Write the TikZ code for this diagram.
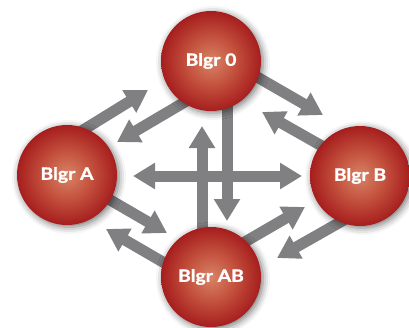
\documentclass[tikz,border=0pt]{standalone}
\usepackage{fontspec}
\setmainfont{Lato}
\newfontfamily\ballfont{Lato}[BoldFeatures={FakeBold=1.2,FakeStretch=1.14}]
\usetikzlibrary{arrows.meta,shadows.blur}
\definecolor{arrgray}{RGB}{128,128,131}
\definecolor{ballin}{RGB}{216,132,102}
\definecolor{ballmid}{RGB}{196,82,62}
\definecolor{ballout}{RGB}{166,30,30}
\pgfdeclareradialshading{redball}{\pgfpoint{0bp}{0bp}}{color(0bp)=(ballin); color(12bp)=(ballmid); color(25bp)=(ballout); color(50bp)=(ballout)}
\pgfdeclarelayer{bg}
\pgfsetlayers{bg,main}
\tikzset{
  ball/.style={circle, minimum size=100pt, inner sep=0pt, shading=redball,
    blur shadow={shadow xshift=2pt, shadow yshift=-2pt, shadow blur radius=7pt, shadow opacity=55},
    text=white, font=\ballfont\bfseries\fontsize{17}{17}\selectfont},
  arr/.style={draw=arrgray, line width=11pt, -{Triangle[width=25pt,length=22pt]}},
  darr/.style={draw=arrgray, line width=11pt, {Triangle[width=25pt,length=22pt]}-{Triangle[width=25pt,length=22pt]}},
}
\begin{document}
\begin{tikzpicture}[x=1pt,y=-1pt]
\useasboundingbox (0,0) rectangle (409,327);
\clip (0,0) rectangle (409,327);
% balls
\node[ball] (n0) at (211,61) {Blgr 0};
\node[ball] (nA) at (67,175) {Blgr A};
\node[ball] (nB) at (360,176) {Blgr B};
\node[ball] (nAB) at (211,277) {Blgr AB};
% connector end points
\coordinate (sA0) at (75,135);   \coordinate (tA0) at (148,90);
\coordinate (s0A) at (195,96);   \coordinate (t0A) at (117,142);
\coordinate (s0B) at (245,70);   \coordinate (t0B) at (323,115);
\coordinate (sB0) at (336,154);  \coordinate (tB0) at (262,112);
\coordinate (sAAB) at (93,190);  \coordinate (tAAB) at (167,233);
\coordinate (sABA) at (180,272); \coordinate (tABA) at (106,229);
\coordinate (sABB) at (231,250); \coordinate (tABB) at (305,207);
\coordinate (sBAB) at (351,216); \coordinate (tBAB) at (277,258);
\coordinate (sup0) at (202,262); \coordinate (tup0) at (202,126);
\coordinate (sdn) at (227,70);   \coordinate (tdn) at (227,221);
\coordinate (hL) at (133,176);   \coordinate (hR) at (302,176);
\begin{pgfonlayer}{bg}
\draw[arr] (sA0) -- (tA0);
\draw[arr] (s0A) -- (t0A);
\draw[arr] (s0B) -- (t0B);
\draw[arr] (sB0) -- (tB0);
\draw[arr] (sAAB) -- (tAAB);
\draw[arr] (sABA) -- (tABA);
\draw[arr] (sABB) -- (tABB);
\draw[arr] (sBAB) -- (tBAB);
\draw[darr] (hL) -- (hR);
\draw[arr] (sup0) -- (tup0);
\draw[arr] (sdn) -- (tdn);
\end{pgfonlayer}
\end{tikzpicture}
\end{document}
